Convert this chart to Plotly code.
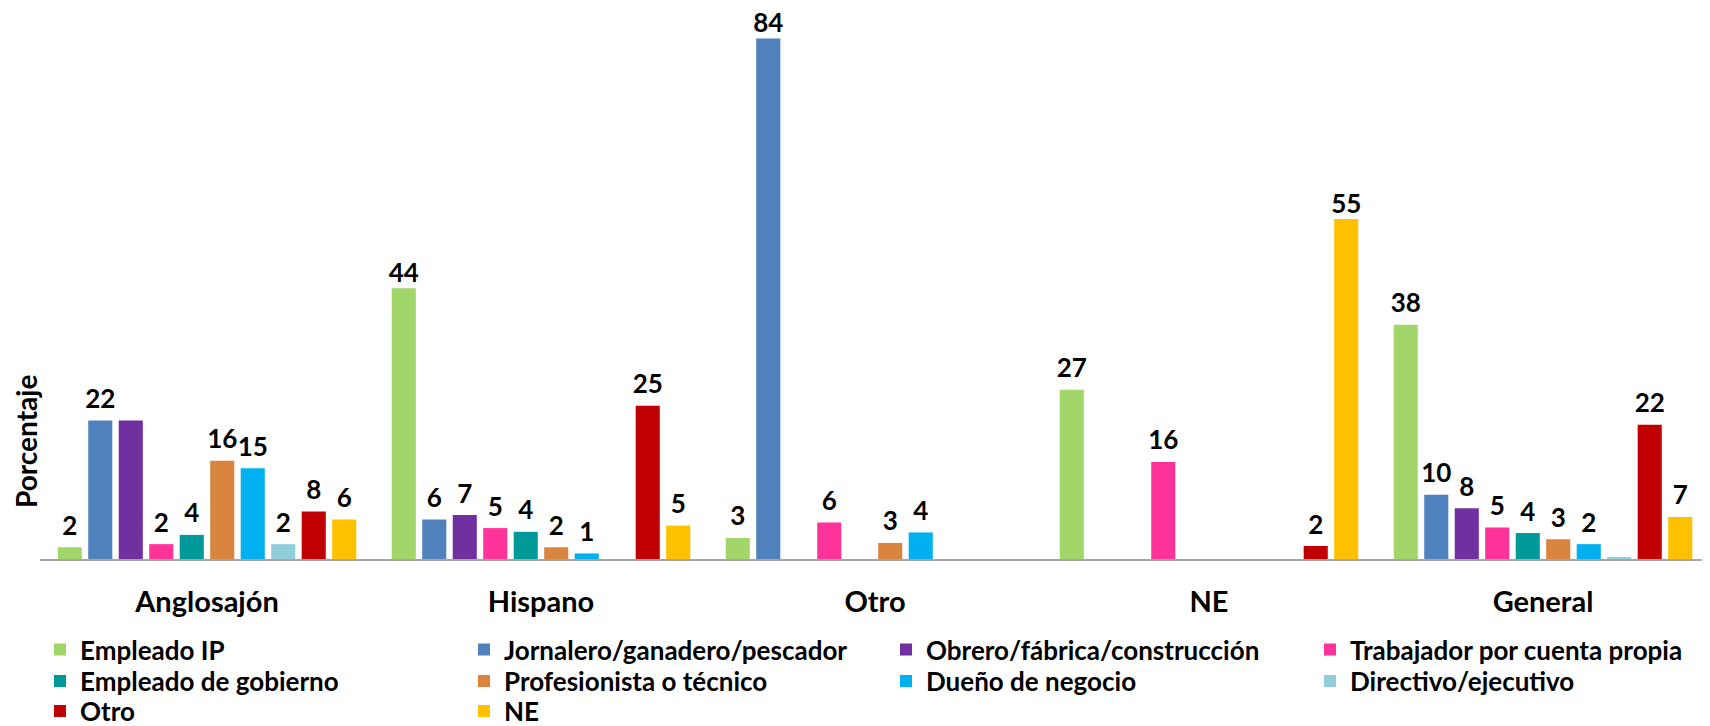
import plotly.graph_objects as go

# ---------- data ----------
groups = ["Anglosajón", "Hispano", "Otro", "NE", "General"]

series_names = [
    "Empleado IP",
    "Jornalero/ganadero/pescador",
    "Obrero/fábrica/construcción",
    "Trabajador por cuenta propia",
    "Empleado de gobierno",
    "Profesionista o técnico",
    "Dueño de negocio",
    "Directivo/ejecutivo",
    "Otro",
    "NE",
]

empleado_ip = [1.9, 43.8, 3.4, 27.4, 37.9]
jornalero = [22.4, 6.4, 84.2, 0, 10.4]
obrero = [22.4, 7.1, 0, 0, 8.2]
trabajador = [2.4, 5.0, 5.9, 15.7, 5.1]
gobierno = [3.9, 4.4, 0, 0, 4.2]
profesionista = [15.9, 1.9, 2.6, 0, 3.2]
dueno = [14.7, 0.9, 4.3, 0, 2.4]
directivo = [2.4, 0, 0, 0, 0.2]
otro = [7.7, 24.8, 0, 2.1, 21.7]
ne = [6.4, 5.4, 0, 55.0, 6.8]

series_values = [empleado_ip, jornalero, obrero, trabajador, gobierno,
                 profesionista, dueno, directivo, otro, ne]

colors = ["#A3D66A", "#4F81BD", "#7030A0", "#FF3399", "#009999",
          "#D9843F", "#00B0F0", "#92CDDC", "#C00000", "#FFC000"]

# labels that the original chart leaves out
hidden = {("Anglosajón", "Obrero/fábrica/construcción"),
          ("General", "Directivo/ejecutivo")}

# legend laid out as 4 columns x 3 rows; each half-row is its own legend
legend_ids = ["legend", "legend", "legend2", "legend2",
              "legend3", "legend3", "legend4", "legend4",
              "legend5", "legend5"]

FONT = "Lato"
GAP = 0.087

fig = go.Figure()
for name, vals, col, lg in zip(series_names, series_values, colors, legend_ids):
    fig.add_trace(go.Bar(
        x=groups, y=vals, name=name, legend=lg,
        marker=dict(color=col, line=dict(width=0)),
        hoverinfo="x+y+name",
    ))

# value labels: grouped scatter text placed just above every bar
for name, vals in zip(series_names, series_values):
    txt = []
    sizes = []
    for g, v in zip(groups, vals):
        if v < 0.5 or (g, name) in hidden:
            txt.append("")
        else:
            txt.append(f"{v:.0f}")
        # tall bars get their label tucked closer, like the original
        sizes.append(0 if v > 40 else 8)
    fig.add_trace(go.Scatter(
        x=groups, y=vals, mode="markers+text", text=txt,
        textposition="top center", showlegend=False, hoverinfo="skip",
        marker=dict(size=sizes, opacity=0),
        textfont=dict(family=FONT, size=26, color="black", weight="bold"),
        cliponaxis=False,
    ))

leg_font = dict(family=FONT, size=26, color="black", weight="bold")
leg_common = dict(orientation="h", xanchor="left", yanchor="top",
                  font=leg_font, entrywidth=379, entrywidthmode="pixels",
                  itemwidth=30, bgcolor="rgba(0,0,0,0)")

# plot area is 551px tall now (was 539), so paper fractions are rescaled
PH = 551.0
x_left, x_right = 0.0, 0.5066
row_y = [-0.1245 * 539 / PH, -0.1830 * 539 / PH, -0.2385 * 539 / PH]

fig.update_layout(
    width=1710, height=726,
    # page body adds an 8px offset, so margins are shifted to compensate
    margin=dict(l=32, r=8, t=0, b=175, autoexpand=False),
    paper_bgcolor="white", plot_bgcolor="white",
    barmode="group", bargap=GAP, bargroupgap=0.21,
    scattermode="group", scattergap=GAP,
    font=dict(family=FONT, color="black"),
    legend=dict(x=x_left, y=row_y[0], **leg_common),
    legend2=dict(x=x_right, y=row_y[0], **leg_common),
    legend3=dict(x=x_left, y=row_y[1], **leg_common),
    legend4=dict(x=x_right, y=row_y[1], **leg_common),
    legend5=dict(x=x_left, y=row_y[2], **leg_common),
)

fig.update_xaxes(
    showline=True, linecolor="#A6A6A6", linewidth=2,
    showgrid=False, ticks="", ticklabelstandoff=16,
    tickfont=dict(family=FONT, size=29, color="black", weight="bold"),
)
fig.update_yaxes(
    range=[0, 89.14], showticklabels=False, showgrid=False,
    zeroline=False, showline=False,
)

fig.add_annotation(
    text="Porcentaje", textangle=-90, xref="paper", yref="paper",
    x=-0.0084, y=0.219 * 539 / PH, xanchor="center", yanchor="middle",
    showarrow=False,
    font=dict(family=FONT, size=28, color="black", weight="bold"),
)

fig.write_html("out.html")
